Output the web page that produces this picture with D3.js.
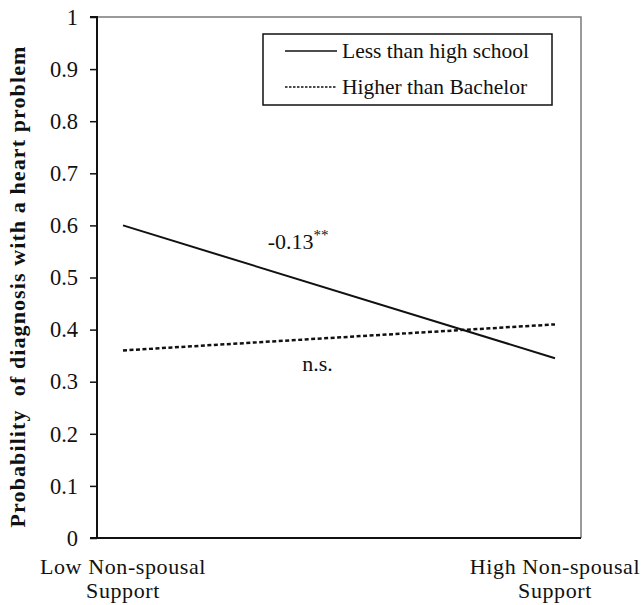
<!DOCTYPE html>
<html><head><meta charset="utf-8">
<script src="https://cdn.jsdelivr.net/npm/d3@7"></script>
<style>body{margin:0;background:#fff}svg{display:block}svg text{font-family:"Liberation Serif",serif !important;fill:#111}</style>
</head><body>
<script>
const categories = ["Low Non-spousal\nSupport", "High Non-spousal\nSupport"];
const seriesNames = ["Less than high school", "Higher than Bachelor"];
const lessThanHS = [0.60, 0.345];
const higherThanBachelor = [0.36, 0.41];
const yTicks = [0, 0.1, 0.2, 0.3, 0.4, 0.5, 0.6, 0.7, 0.8, 0.9, 1];
const annotations = [{text: "-0.13", sup: "**", x: 0.335, y: 0.555}, {text: "n.s.", x: 0.415, y: 0.32}];

(function () {
const W = 642, H = 605;
const pLeft = 97, pRight = 581, pTop = 17, pBottom = 538;
const FONT = '"Liberation Serif", serif';
const svg = d3.select("body").append("svg").attr("width", W).attr("height", H).attr("font-family", FONT);

const y = d3.scaleLinear().domain([0, 1]).range([pBottom, pTop]);
const xPos = d3.scalePoint().domain(categories).range([123, 555]);
const xFrac = d3.scaleLinear().domain([0, 1]).range([xPos(categories[0]), xPos(categories[1])]);

// plot border (grey)
svg.append("path").attr("d", `M${pLeft},${pTop}H${pRight}V${pBottom}`).attr("fill", "none").attr("stroke", "#7a7a7a").attr("stroke-width", 1.5);

// y axis
const yAxis = svg.append("g").attr("transform", `translate(${pLeft},0)`)
  .call(d3.axisLeft(y).tickValues(yTicks).tickSize(7).tickPadding(12).tickFormat(d => d3.format("")(d)));
yAxis.attr("font-family", FONT).attr("font-size", 22.5);
yAxis.select(".domain").attr("stroke", "#111").attr("stroke-width", 2).attr("d", `M-7,${pTop}H0V${pBottom}`);
yAxis.selectAll(".tick line").attr("stroke", "#111").attr("stroke-width", 1.5);
yAxis.selectAll(".tick text").attr("fill", "#111");

// x axis line
svg.append("line").attr("x1", 90).attr("x2", pRight).attr("y1", pBottom).attr("y2", pBottom).attr("stroke", "#111").attr("stroke-width", 2);

// category labels
categories.forEach(c => {
  const t = svg.append("text").attr("text-anchor", "middle").attr("font-size", 22).attr("letter-spacing", 0.6).attr("x", xPos(c)).attr("y", 574);
  c.split("\n").forEach((ln, i) => t.append("tspan").attr("x", xPos(c)).attr("dy", i ? 24 : 0).text(ln));
});

// y title
svg.append("text").attr("transform", `translate(25,${(pTop + pBottom) / 2 + 9}) rotate(-90)`)
  .attr("text-anchor", "middle").attr("font-size", 22).attr("font-weight", "bold").attr("letter-spacing", 1.1)
  .style("white-space", "pre").text("Probability  of diagnosis with a heart problem");

// lines
const line = d3.line().x((d, i) => xPos(categories[i])).y(d => y(d));
svg.append("path").datum(lessThanHS).attr("d", line).attr("fill", "none").attr("stroke", "#111").attr("stroke-width", 2);
svg.append("path").datum(higherThanBachelor).attr("d", line).attr("fill", "none").attr("stroke", "#111").attr("stroke-width", 2.5).attr("stroke-dasharray", "4,2.5");

// annotations
annotations.forEach(a => {
  const t = svg.append("text").attr("x", xFrac(a.x)).attr("y", y(a.y)).attr("font-size", 22).attr("text-anchor", "start");
  t.append("tspan").text(a.text);
  if (a.sup) t.append("tspan").attr("dy", -9).attr("font-size", 15).text(a.sup);
});

// legend
const lg = svg.append("g");
lg.append("rect").attr("x", 263).attr("y", 34).attr("width", 289).attr("height", 71).attr("fill", "#fff").attr("stroke", "#111").attr("stroke-width", 1.5);
seriesNames.forEach((n, i) => {
  const yy = 51 + i * 36;
  lg.append("line").attr("x1", 285).attr("x2", 337).attr("y1", yy).attr("y2", yy).attr("stroke", "#111")
    .attr("stroke-width", i ? 1.5 : 1.3).attr("stroke-dasharray", i ? "2.5,1.5" : null);
  lg.append("text").attr("x", 342).attr("y", yy + 7).attr("font-size", 21.5).text(n);
});
})();
</script>
</body></html>
